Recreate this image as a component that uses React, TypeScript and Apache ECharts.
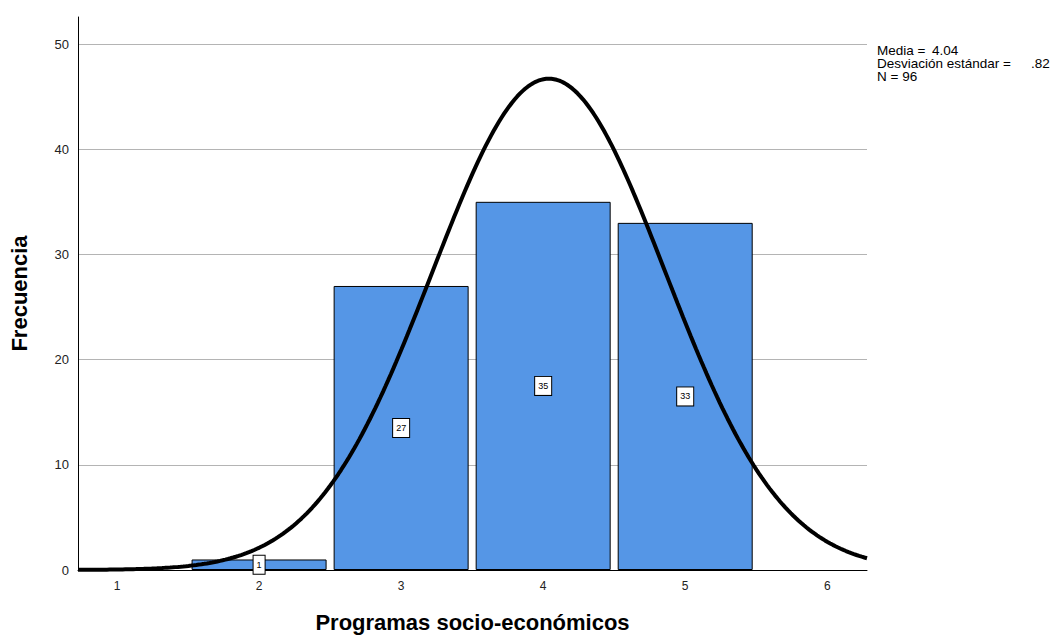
import React, { useEffect, useRef } from "react";
import * as echarts from "echarts";

const categories = [2, 3, 4, 5];
const frequencies = [1, 27, 35, 33];
const xTickLabels = [1, 2, 3, 4, 5, 6];
const yTickLabels = [0, 10, 20, 30, 40, 50];
const stats = { mean: 4.04, sd: 0.82, n: 96 };
const statLabels = ["Media =", "Desviación estándar =", "N = 96"];
const statValues = ["4.04", ".82"];

const X_MIN = 0.725;
const X_MAX = 6.28;

function normalCurve(): number[][] {
  const pts: number[][] = [];
  const steps = 300;
  for (let i = 0; i <= steps; i++) {
    const x = X_MIN + ((X_MAX - X_MIN) * i) / steps;
    const z = (x - stats.mean) / stats.sd;
    const y = (stats.n / (stats.sd * Math.sqrt(2 * Math.PI))) * Math.exp(-0.5 * z * z);
    pts.push([x, y]);
  }
  return pts;
}

export default function App() {
  const ref = useRef<HTMLDivElement>(null);
  useEffect(() => {
    if (!ref.current) return;
    const chart = echarts.init(ref.current, undefined, { renderer: "svg" });
    const font = "Liberation Sans, Arial, sans-serif";
    chart.setOption({
      animation: false,
      textStyle: { fontFamily: font },
      grid: { left: 78, right: 184, top: 17, bottom: 65, containLabel: false, outerBoundsMode: "none" },
      xAxis: {
        type: "value",
        min: X_MIN,
        max: X_MAX,
        name: "Programas socio-económicos",
        nameLocation: "middle",
        nameGap: 41,
        nameTextStyle: { fontSize: 22, fontWeight: "bold", color: "#000", fontFamily: font },
        axisLine: { show: true, onZero: false, lineStyle: { color: "#000", width: 1 } },
        axisTick: { show: false },
        splitLine: { show: false },
        axisLabel: {
          customValues: xTickLabels,
          fontSize: 12,
          color: "#222",
          margin: 10,
          fontFamily: font,
        },
      },
      yAxis: {
        type: "value",
        min: 0,
        max: 52.57,
        interval: 10,
        name: "Frecuencia",
        nameLocation: "middle",
        nameGap: 48,
        nameRotate: 90,
        nameTextStyle: { fontSize: 22, fontWeight: "bold", color: "#000", fontFamily: font },
        axisLine: { show: true, lineStyle: { color: "#000", width: 1 } },
        axisTick: { show: false },
        splitLine: { show: true, showMaxLine: false, lineStyle: { color: "#b4b4b4", width: 1 } },
        axisLabel: {
          customValues: yTickLabels,
          fontSize: 13,
          color: "#222",
          margin: 9,
          fontFamily: font,
        },
      },
      series: [
        {
          type: "bar",
          data: categories.map((c, i) => [c, frequencies[i]]),
          barWidth: 135,
          itemStyle: { color: "#5596e6", borderColor: "#000", borderWidth: 1 },
          label: {
            show: true,
            position: "inside",
            fontSize: 9,
            color: "#000",
            backgroundColor: "#fff",
            borderColor: "#000",
            borderWidth: 1,
            padding: [5, 3, 4, 3],
            fontFamily: font,
          },
          z: 2,
        },
        {
          type: "line",
          data: normalCurve(),
          showSymbol: false,
          symbol: "none",
          lineStyle: { color: "#000", width: 4 },
          z: 3,
        },
      ],
      graphic: [
        ...statLabels.map((t, i) => ({
          type: "text",
          left: 877,
          top: 43 + i * 13,
          style: { text: t, fontSize: 13.5, fill: "#000", fontFamily: font },
        })),
        {
          type: "text",
          left: 932,
          top: 43,
          style: { text: statValues[0], fontSize: 13.5, fill: "#000", fontFamily: font },
        },
        {
          type: "text",
          left: 1031,
          top: 56,
          style: { text: statValues[1], fontSize: 13.5, fill: "#000", fontFamily: font },
        },
      ],
    });
    return () => chart.dispose();
  }, []);
  return <div ref={ref} style={{ width: 1051, height: 635, position: "absolute", left: 0, top: 0 }} />;
}
